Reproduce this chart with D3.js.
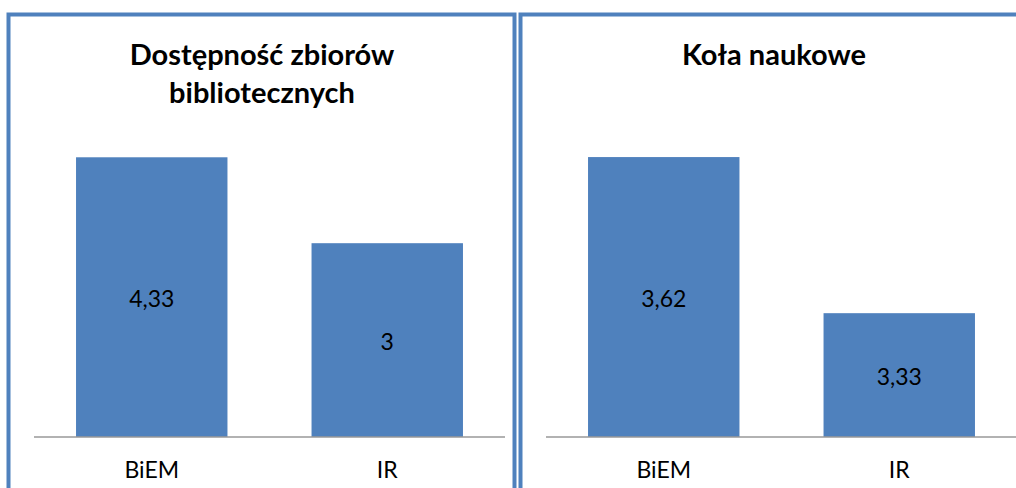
<!DOCTYPE html>
<html>
<head>
<meta charset="utf-8">
<script src="https://cdn.jsdelivr.net/npm/d3@7"></script>
<style>
  html, body { margin: 0; padding: 0; background: #fff; }
  svg { display: block; }
  text { font-family: Lato, "Open Sans", sans-serif; fill: #000; }
</style>
</head>
<body>
<svg id="chart" width="1016" height="488"></svg>
<script>
const categories = ["BiEM", "IR"];
const titles = [["Dostępność zbiorów", "bibliotecznych"], ["Koła naukowe"]];
const valuesLeft = [4.33, 3];
const valuesRight = [3.62, 3.33];
const domainLeft = [0, 5];
const domainRight = [3.1, 3.7];

const panels = [
  { title: titles[0], values: valuesLeft, domain: domainLeft },
  { title: titles[1], values: valuesRight, domain: domainRight }
];

const svg = d3.select("#chart");
const blue = "#4f81bd";
const panelOffset = 512;
const fmt = v => String(v).replace(".", ",");

panels.forEach((p, i) => {
  const g = svg.append("g").attr("transform", `translate(${i * panelOffset},0)`);

  const x = d3.scaleBand().domain(categories).range([34, 505])
    .paddingInner(0.357).paddingOuter(0.1785);
  const y = d3.scaleLinear().domain(p.domain).range([437, 114]);

  g.selectAll("rect.bar").data(p.values).join("rect")
    .attr("class", "bar")
    .attr("x", (d, j) => x(categories[j]))
    .attr("width", x.bandwidth())
    .attr("y", d => y(d))
    .attr("height", d => y(p.domain[0]) - y(d))
    .attr("fill", blue);

  g.selectAll("text.val").data(p.values).join("text")
    .attr("class", "val")
    .attr("x", (d, j) => x(categories[j]) + x.bandwidth() / 2)
    .attr("y", d => (y(d) + y(p.domain[0])) / 2 + 2)
    .attr("dy", "0.35em")
    .attr("text-anchor", "middle")
    .attr("font-size", 23)
    .text(d => fmt(d));

  const axis = d3.axisBottom(x).tickSize(0).tickPadding(25);
  const ax = g.append("g").attr("transform", `translate(0,${y(p.domain[0])})`).call(axis);
  ax.select(".domain").attr("stroke", "#999").attr("stroke-width", 1.5).attr("d", "M34,0H505");
  ax.selectAll(".tick text").attr("font-size", 23).attr("font-family", "Lato, sans-serif").attr("fill", "#000");

  const t = g.append("text")
    .attr("x", 262)
    .attr("text-anchor", "middle")
    .attr("font-size", 29)
    .attr("font-weight", "bold");
  p.title.forEach((line, k) => {
    t.append("tspan").attr("x", 262).attr("y", 65 + k * 38).text(line);
  });

  g.append("rect")
    .attr("x", 8.5).attr("y", 14.5)
    .attr("width", 506).attr("height", 520)
    .attr("fill", "none")
    .attr("stroke", blue).attr("stroke-width", 4);
});
</script>
</body>
</html>
